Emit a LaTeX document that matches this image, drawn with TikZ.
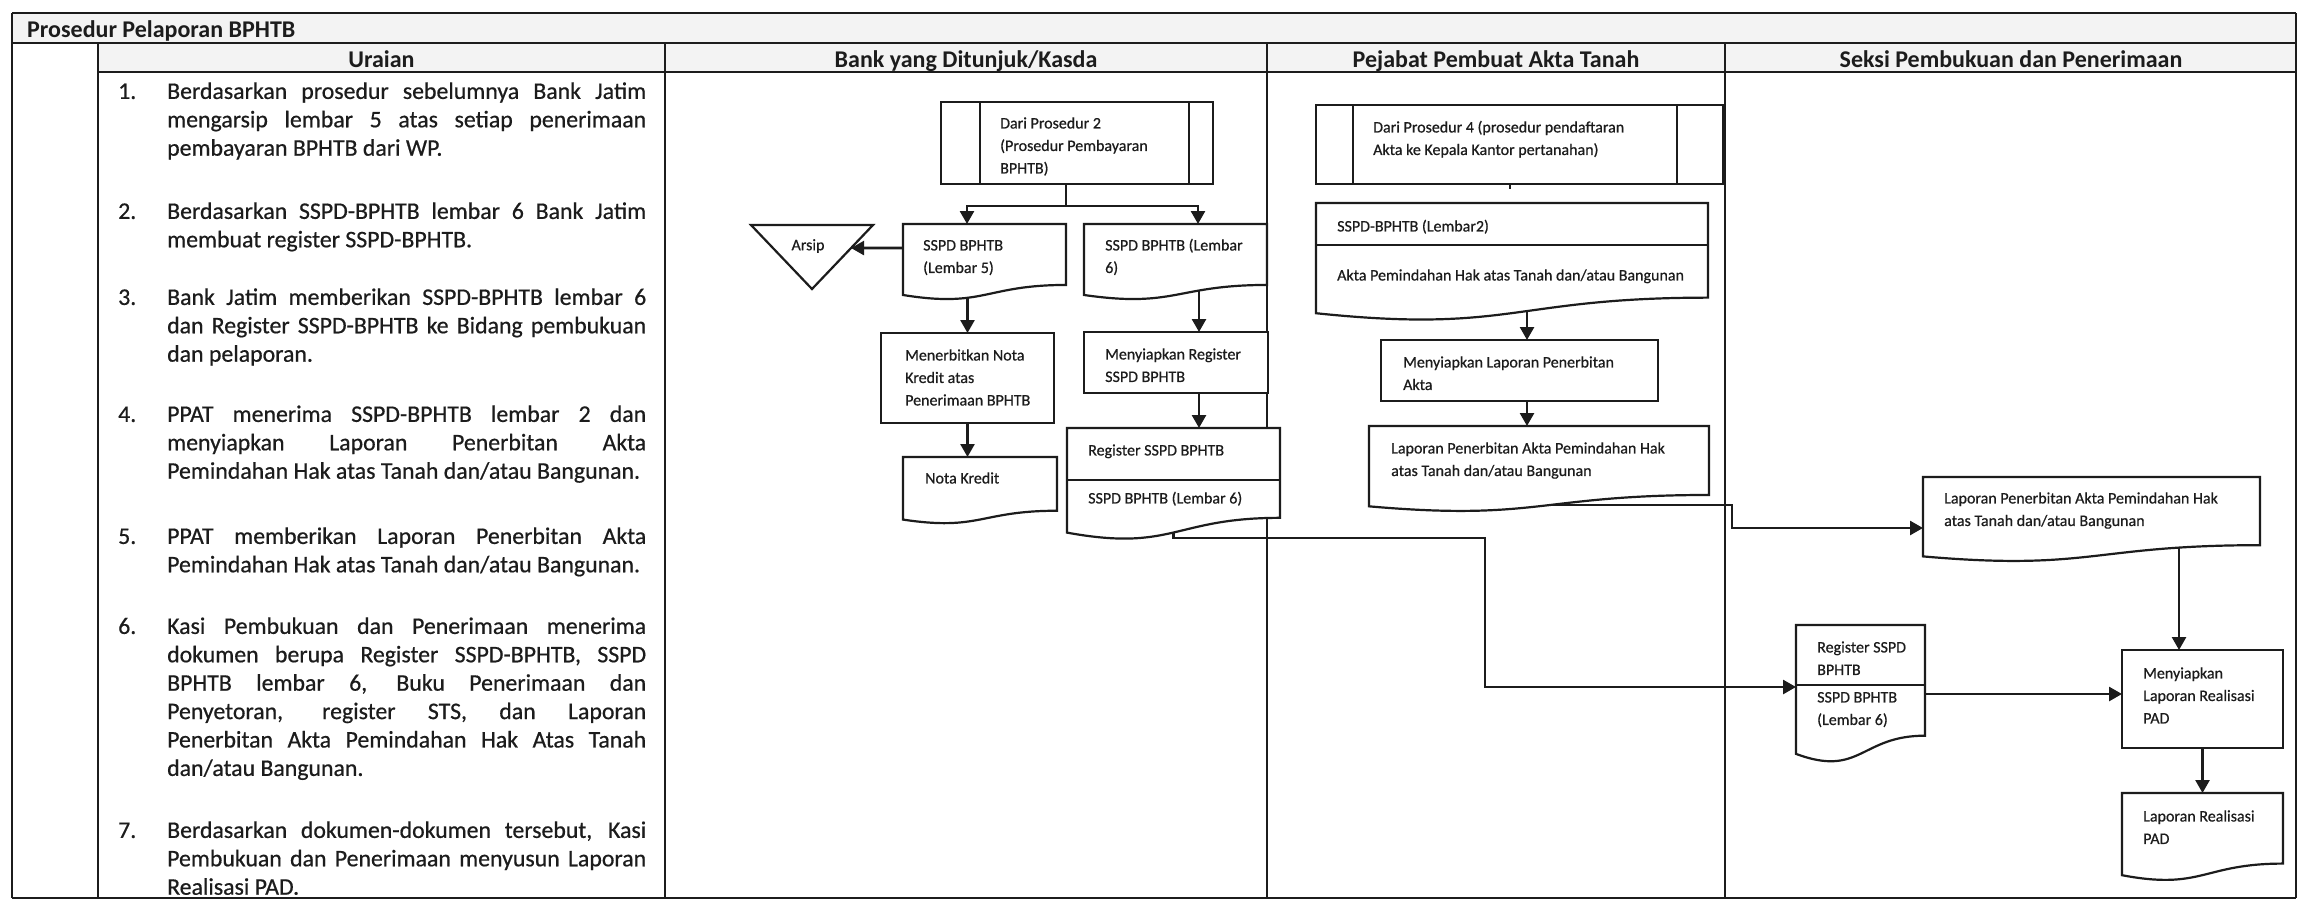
\documentclass[tikz,border=0pt]{standalone}
\usepackage{fontspec}
\setmainfont{Carlito}
\newfontfamily\scanfont{Carlito}[FakeBold=0.6]
\usetikzlibrary{arrows.meta,calc}
\pgfdeclarelayer{bg}
\pgfsetlayers{bg,main}

\definecolor{ink}{HTML}{1C1C1C}
\definecolor{headfill}{HTML}{F3F3F3}

\tikzset{
  gridh/.style={draw=ink, line width=2pt},
  gridv/.style={draw=ink, line width=1.4pt},
  shapebox/.style={rectangle, inner sep=0pt, outer sep=0pt, anchor=north west},
  outline/.style={draw=ink, line width=2.2pt, fill=white},
  conn/.style={draw=ink, line width=2.6pt},
  arr/.style={conn, -{Triangle[length=13pt,width=14pt]}},
  ftext/.style={inner sep=0pt, anchor=north west, align=left, text=ink,
    font=\scanfont\fontsize{16}{22.5}\selectfont},
  utext/.style={inner sep=0pt, anchor=north west, text width=479pt, align=justify, text=ink,
    font=\scanfont\fontsize{23.8}{28.4}\selectfont},
  unum/.style={inner sep=0pt, anchor=north west, text=ink, font=\scanfont\fontsize{23.8}{28.4}\selectfont},
  head/.style={inner sep=0pt, anchor=base, text=ink, font=\fontsize{24}{28}\selectfont\bfseries},
}

% shape helpers: name, left x, top y, width, height
\newcommand\procnode[5]{\node[shapebox, outline, minimum width=#4pt, minimum height=#5pt] (#1) at (#2,#3) {};}
\newcommand\docnode[5]{\node[shapebox, minimum width=#4pt, minimum height=#5pt] (#1) at (#2,#3) {};
  \draw[outline] (#1.north west) -- (#1.north east) -- ($(#1.north east)!0.802!(#1.south east)$)
    .. controls ($(#1.north)!0.802!(#1.south)$) and ($(#1.north)!1.1075!(#1.south)$)
    .. ($(#1.north west)!0.934!(#1.south west)$) -- cycle;}
% text block: name, left x, centre of first line, text
\newcommand\ftx[4]{\node[ftext] (#1) at (#2,#3-10.5) {\strut#4};}
% numbered step: name, number, centre of first line, text
\newcommand\uitem[4]{\node[unum] (#1n) at (118,#3-13.2) {\strut#2.};
  \node[utext] (#1) at (167,#3-13.2) {\hyphenpenalty=10000\relax\exhyphenpenalty=10000\relax
    \tolerance=9999\relax\strut#4};}

\begin{document}
\begin{tikzpicture}[x=1pt,y=-1pt]
\useasboundingbox (0,0) rectangle (2299,900);

% ---------- table frame ----------
\begin{pgfonlayer}{bg}
  \fill[white] (0,0) rectangle (2299,900);
  \fill[headfill] (12,13) rectangle (2296,43);
  \fill[headfill] (98,43) rectangle (2296,72);
  \draw[gridh] (12,13) -- (2296,13);
  \draw[gridh] (12,43) -- (2296,43);
  \draw[gridh] (98,72) -- (2296,72);
  \draw[gridh] (12,898) -- (2296,898);
  \draw[gridv] (12,13) -- (12,898);
  \draw[gridv] (2296,13) -- (2296,898);
  \draw[gridv] (98,43) -- (98,898);
  \draw[gridv] (665,43) -- (665,898);
  \draw[gridv] (1267,43) -- (1267,898);
  \draw[gridv] (1725,43) -- (1725,898);
\end{pgfonlayer}

\node[head, anchor=base west] (title) at (27,37) {Prosedur Pelaporan BPHTB};
\node[head] (hUraian) at (381.5,67) {Uraian};
\node[head] (hBank) at (966,67) {Bank yang Ditunjuk/Kasda};
\node[head] (hPPAT) at (1496,67) {Pejabat Pembuat Akta Tanah};
\node[head] (hSeksi) at (2011,67) {Seksi Pembukuan dan Penerimaan};

% ---------- steps ----------
\uitem{u1}{1}{92}{Berdasarkan prosedur sebelumnya Bank Jatim\linebreak mengarsip lembar 5 atas setiap penerimaan\linebreak pembayaran BPHTB dari WP.}
\uitem{u2}{2}{212}{Berdasarkan SSPD-BPHTB lembar 6 Bank Jatim\linebreak membuat register SSPD-BPHTB.}
\uitem{u3}{3}{298}{Bank Jatim memberikan SSPD-BPHTB lembar 6\linebreak dan Register SSPD-BPHTB ke Bidang pembukuan\linebreak dan pelaporan.}
\uitem{u4}{4}{415}{PPAT menerima SSPD-BPHTB lembar 2 dan\linebreak menyiapkan Laporan Penerbitan Akta\linebreak Pemindahan Hak atas Tanah dan/atau Bangunan.}
\uitem{u5}{5}{537}{PPAT memberikan Laporan Penerbitan Akta\linebreak Pemindahan Hak atas Tanah dan/atau Bangunan.}
\uitem{u6}{6}{627}{Kasi Pembukuan dan Penerimaan menerima\linebreak dokumen berupa Register SSPD-BPHTB, SSPD\linebreak BPHTB lembar 6, Buku Penerimaan dan\linebreak Penyetoran, register STS, dan Laporan\linebreak Penerbitan Akta Pemindahan Hak Atas Tanah\linebreak dan/atau Bangunan.}
\uitem{u7}{7}{831}{Berdasarkan dokumen-dokumen tersebut, Kasi\linebreak Pembukuan dan Penerimaan menyusun Laporan\linebreak Realisasi PAD.}

% ---------- Bank yang Ditunjuk/Kasda ----------
\procnode{dp2}{941}{102}{272}{82}
\draw[outline] ([xshift=39pt]dp2.north west) -- ([xshift=39pt]dp2.south west);
\draw[outline] ([xshift=-24pt]dp2.north east) -- ([xshift=-24pt]dp2.south east);
\docnode{l5}{903}{224}{163}{76}
\docnode{l6}{1084}{224}{183}{76}
\procnode{menb}{881}{333}{173}{90}
\procnode{menyreg}{1084}{332}{184}{61}
\docnode{nota}{903}{457}{154}{67}
\docnode{regm}{1067}{428}{213}{112}
\draw[outline] (regm.west |- 0,480) -- (regm.east |- 0,480);
\node[shapebox, minimum width=122pt, minimum height=64pt] (arsip) at (751,225) {};
\draw[outline] (arsip.north west) -- (arsip.north east) -- (arsip.south) -- cycle;

% ---------- Pejabat Pembuat Akta Tanah ----------
\procnode{dp4}{1316}{105}{407}{79}
\draw[outline] ([xshift=37pt]dp4.north west) -- ([xshift=37pt]dp4.south west);
\draw[outline] ([xshift=-46pt]dp4.north east) -- ([xshift=-46pt]dp4.south east);
\docnode{ppm}{1316}{203}{392}{118}
\draw[outline] (ppm.west |- 0,245) -- (ppm.east |- 0,245);
\procnode{menylap}{1381}{340}{277}{61}
\docnode{lapppat}{1369}{426}{340}{86}

% ---------- Seksi Pembukuan dan Penerimaan ----------
\docnode{lapseksi}{1923}{477}{337}{85}
\docnode{regs}{1796}{625}{129}{138}
\draw[outline] (regs.west |- 0,685) -- (regs.east |- 0,685);
\procnode{menyreal}{2122}{650}{161}{98}
\docnode{lrpad}{2122}{793}{161}{88}

% ---------- shape texts ----------
\ftx{tdp2}{1000}{123}{Dari Prosedur 2\\(Prosedur Pembayaran\\BPHTB)}
\ftx{tl5}{923}{245}{SSPD BPHTB\\(Lembar 5)}
\ftx{tl6}{1105}{245}{SSPD BPHTB (Lembar\\6)}
\ftx{tmenb}{905}{355}{Menerbitkan Nota\\Kredit atas\\Penerimaan BPHTB}
\ftx{tmenyreg}{1105}{354}{Menyiapkan Register\\SSPD BPHTB}
\ftx{tnota}{925}{478}{Nota Kredit}
\ftx{treg1}{1088}{450}{Register SSPD BPHTB}
\ftx{treg2}{1088}{498}{SSPD BPHTB (Lembar 6)}
\node[ftext, anchor=center] (tarsip) at (808,246) {Arsip};
\ftx{tdp4}{1373}{127}{Dari Prosedur 4 (prosedur pendaftaran\\Akta ke Kepala Kantor pertanahan)}
\ftx{tppm1}{1337}{226}{SSPD-BPHTB (Lembar2)}
\ftx{tppm2}{1337}{275}{Akta Pemindahan Hak atas Tanah dan/atau Bangunan}
\ftx{tmenylap}{1403}{362}{Menyiapkan Laporan Penerbitan\\Akta}
\ftx{tlapppat}{1391}{448}{Laporan Penerbitan Akta Pemindahan Hak\\atas Tanah dan/atau Bangunan}
\ftx{tlapseksi}{1944}{498}{Laporan Penerbitan Akta Pemindahan Hak\\atas Tanah dan/atau Bangunan}
\ftx{trs1}{1817}{647}{Register SSPD\\BPHTB}
\ftx{trs2}{1817}{697}{SSPD BPHTB\\(Lembar 6)}
\ftx{tmenyreal}{2143}{673}{Menyiapkan\\Laporan Realisasi\\PAD}
\ftx{tlrpad}{2143}{816}{Laporan Realisasi\\PAD}

% ---------- connectors ----------
\begin{pgfonlayer}{bg}
  \coordinate (j1) at (1066,206);
  \draw[conn] ([xshift=-11pt]dp2.south) -- (j1);
  \draw[arr] (j1) -| ([xshift=-17.5pt]l5.north);
  \draw[arr] (j1) -| ([xshift=22.5pt]l6.north);
  \draw[arr] ([yshift=14pt]l5.west) -- ($(arsip.north east)!0.36!(arsip.south)$);
  \draw[arr] (l5.center -| menb.north) -- (menb.north);
  \draw[arr] (menb.south) -- (menb.south |- nota.north);
  \coordinate (xl6) at ($(l6.north)+(23.5,0)$);
  \draw[arr] (l6.center -| xl6) -- (menyreg.north -| xl6);
  \draw[arr] (menyreg.south -| xl6) -- (regm.north -| xl6);
  \coordinate (c1) at (1485,538);
  \draw[arr] (regm.center) |- (c1) |- ([yshift=7pt]regs.west);

  \draw[conn] ([xshift=-9.5pt]dp4.south) -- ++(0,5);
  \coordinate (xap) at ($(menylap.north)+(7.5,0)$);
  \draw[arr] (ppm.center -| xap) -- (xap);
  \draw[arr] (menylap.south -| xap) -- (lapppat.north -| xap);
  \coordinate (c2) at (1732,505);
  \draw[arr] (lapppat.center) |- (c2) |- ([yshift=-8.5pt]lapseksi.west);

  \coordinate (xrl) at ($(menyreal.north)+(-23.5,0)$);
  \draw[arr] (lapseksi.center -| xrl) -- (xrl);
  \draw[arr] (regs.east) -- (regs.east -| menyreal.west);
  \draw[arr] (menyreal.south) -- (lrpad.north);
\end{pgfonlayer}
\end{tikzpicture}
\end{document}
